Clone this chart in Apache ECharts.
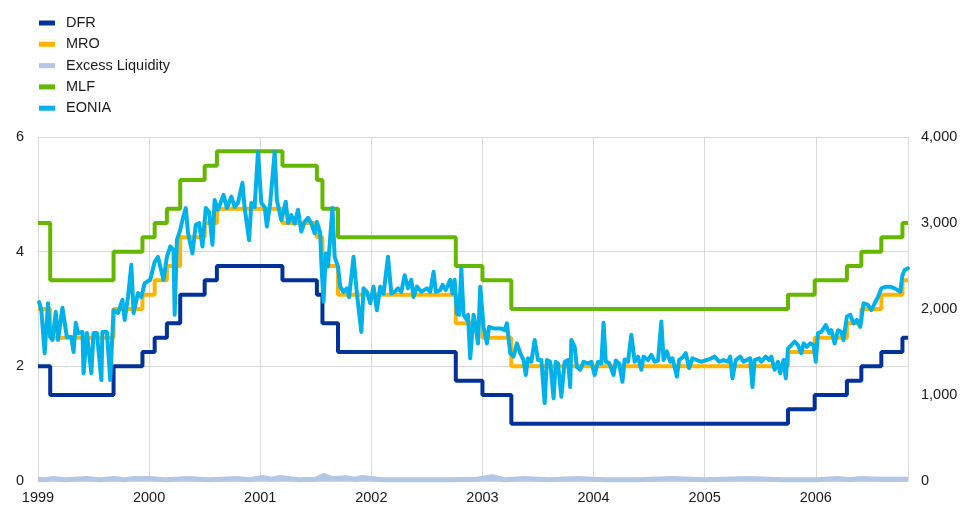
<!DOCTYPE html>
<html>
<head>
<meta charset="utf-8">
<script src="https://cdn.jsdelivr.net/npm/echarts@6/dist/echarts.min.js"></script>
<style>
  html, body { margin: 0; padding: 0; background: #fff; }
  #chart { width: 962px; height: 507px; }
</style>
</head>
<body>
<div id="chart"></div>
<script>
// dates are decimal years
const rateDates = [1999.00, 1999.11, 1999.68, 1999.94, 2000.05, 2000.16, 2000.28, 2000.50, 2000.61,
  2001.20, 2001.51, 2001.56, 2001.70, 2002.76, 2003.00, 2003.26, 2005.75, 2005.99, 2006.28,
  2006.41, 2006.59, 2006.78];
const endDate = 2006.83;

const dfrValues = [2.0, 1.5, 2.0, 2.25, 2.5, 2.75, 3.25, 3.5, 3.75, 3.5, 3.25, 2.75, 2.25, 1.75,
  1.5, 1.0, 1.25, 1.5, 1.75, 2.0, 2.25, 2.5];
const mroValues = [3.0, 2.5, 3.0, 3.25, 3.5, 3.75, 4.25, 4.5, 4.75, 4.5, 4.25, 3.75, 3.25, 2.75,
  2.5, 2.0, 2.25, 2.5, 2.75, 3.0, 3.25, 3.5];
const mlfValues = [4.5, 3.5, 4.0, 4.25, 4.5, 4.75, 5.25, 5.5, 5.75, 5.5, 5.25, 4.75, 4.25, 3.75,
  3.5, 3.0, 3.25, 3.5, 3.75, 4.0, 4.25, 4.5];

const eoniaDates = [
  1999.01, 1999.03, 1999.06, 1999.09, 1999.11, 1999.13, 1999.16, 1999.18, 1999.22, 1999.26,
  1999.30, 1999.32, 1999.34, 1999.36, 1999.40, 1999.41, 1999.44, 1999.48, 1999.50, 1999.53,
  1999.57, 1999.58, 1999.62, 1999.65, 1999.67, 1999.68, 1999.72, 1999.76, 1999.78, 1999.81,
  1999.84, 1999.86, 1999.90, 1999.93, 1999.96, 2000.01, 2000.05, 2000.08, 2000.10, 2000.13,
  2000.16, 2000.19, 2000.22, 2000.23, 2000.25, 2000.28, 2000.30, 2000.33, 2000.35, 2000.39,
  2000.42, 2000.45, 2000.48, 2000.51, 2000.54, 2000.57, 2000.59, 2000.62, 2000.67, 2000.70,
  2000.74, 2000.77, 2000.80, 2000.84, 2000.86, 2000.90, 2000.92, 2000.95, 2000.98, 2001.01,
  2001.04, 2001.06, 2001.09, 2001.13, 2001.15, 2001.19, 2001.23, 2001.25, 2001.28, 2001.31,
  2001.34, 2001.37, 2001.40, 2001.43, 2001.46, 2001.49, 2001.51, 2001.54, 2001.55, 2001.57,
  2001.59, 2001.61, 2001.65, 2001.67, 2001.70, 2001.72, 2001.75, 2001.78, 2001.80, 2001.84,
  2001.87, 2001.91, 2001.93, 2001.96, 2001.99, 2002.02, 2002.05, 2002.08, 2002.11, 2002.15,
  2002.18, 2002.21, 2002.24, 2002.27, 2002.30, 2002.33, 2002.36, 2002.38, 2002.41, 2002.45,
  2002.50, 2002.53, 2002.56, 2002.58, 2002.62, 2002.64, 2002.67, 2002.71, 2002.73, 2002.75,
  2002.77, 2002.79, 2002.81, 2002.83, 2002.86, 2002.87, 2002.89, 2002.92, 2002.94, 2002.96,
  2002.98, 2003.01, 2003.04, 2003.06, 2003.10, 2003.13, 2003.17, 2003.20, 2003.22, 2003.25,
  2003.28, 2003.31, 2003.34, 2003.37, 2003.39, 2003.41, 2003.44, 2003.47, 2003.50, 2003.53,
  2003.56, 2003.58, 2003.61, 2003.64, 2003.66, 2003.68, 2003.71, 2003.74, 2003.77, 2003.79,
  2003.80, 2003.83, 2003.85, 2003.88, 2003.91, 2003.95, 2003.98, 2004.01, 2004.04, 2004.07,
  2004.09, 2004.11, 2004.14, 2004.18, 2004.20, 2004.23, 2004.26, 2004.28, 2004.31, 2004.34,
  2004.37, 2004.40, 2004.43, 2004.45, 2004.49, 2004.52, 2004.55, 2004.58, 2004.61, 2004.63,
  2004.66, 2004.69, 2004.71, 2004.75, 2004.77, 2004.81, 2004.83, 2004.86, 2004.89, 2004.93,
  2004.97, 2005.02, 2005.06, 2005.09, 2005.13, 2005.17, 2005.21, 2005.23, 2005.25, 2005.28,
  2005.32, 2005.35, 2005.38, 2005.41, 2005.43, 2005.45, 2005.49, 2005.51, 2005.55, 2005.58,
  2005.60, 2005.63, 2005.66, 2005.68, 2005.71, 2005.73, 2005.75, 2005.78, 2005.81, 2005.84,
  2005.87, 2005.89, 2005.92, 2005.95, 2005.98, 2006.00, 2006.02, 2006.05, 2006.09, 2006.12,
  2006.14, 2006.17, 2006.20, 2006.23, 2006.25, 2006.28, 2006.31, 2006.34, 2006.37, 2006.40,
  2006.43, 2006.47, 2006.50, 2006.53, 2006.56, 2006.59, 2006.63, 2006.67, 2006.71, 2006.76,
  2006.78, 2006.80, 2006.83];
const eoniaValues = [
  3.12, 2.98, 2.23, 3.10, 2.51, 2.46, 2.95, 2.46, 3.02, 2.51,
  2.51, 2.25, 2.76, 2.58, 2.60, 1.88, 2.58, 1.88, 2.58, 2.58,
  1.76, 2.60, 2.60, 1.76, 2.58, 2.98, 2.93, 3.16, 2.81, 3.21,
  3.77, 2.93, 3.28, 3.21, 3.45, 3.51, 3.82, 3.91, 3.74, 3.51,
  3.91, 4.09, 4.03, 2.90, 4.20, 4.38, 4.55, 4.76, 4.33, 3.97,
  4.47, 4.50, 4.09, 4.76, 4.69, 4.12, 4.90, 4.73, 4.99, 4.76,
  4.96, 4.78, 4.85, 5.20, 4.76, 4.20, 4.85, 4.78, 5.74, 4.85,
  4.78, 4.44, 4.85, 5.74, 4.90, 4.55, 4.87, 4.50, 4.64, 4.49,
  4.73, 4.35, 4.52, 4.59, 4.49, 4.32, 4.52, 4.33, 3.80, 3.13,
  3.97, 3.74, 4.76, 3.91, 3.74, 3.39, 3.30, 3.36, 3.21, 3.91,
  3.27, 2.60, 3.36, 3.30, 3.10, 3.39, 2.98, 3.39, 3.27, 3.91,
  3.27, 3.30, 3.36, 3.30, 3.59, 3.36, 3.51, 3.21, 3.39, 3.30,
  3.36, 3.30, 3.65, 3.30, 3.33, 3.42, 3.33, 3.51, 3.27, 3.51,
  2.92, 2.90, 3.71, 2.90, 2.81, 2.90, 2.14, 2.90, 2.69, 2.40,
  3.39, 2.69, 2.40, 2.69, 2.66, 2.66, 2.66, 2.63, 2.75, 2.23,
  2.17, 2.40, 2.23, 2.11, 1.85, 2.14, 2.08, 2.46, 2.11, 2.11,
  1.36, 2.11, 2.08, 1.44, 2.08, 2.05, 1.47, 2.08, 2.11, 1.64,
  2.46, 2.34, 1.99, 1.94, 2.08, 2.05, 2.08, 1.85, 2.08, 2.05,
  2.76, 2.08, 2.06, 1.85, 2.10, 2.05, 1.73, 2.12, 2.08, 2.55,
  2.08, 2.17, 1.94, 2.17, 2.11, 2.20, 2.08, 2.10, 2.78, 2.11,
  2.26, 2.08, 2.14, 1.82, 2.11, 2.17, 2.23, 1.97, 2.14, 2.11,
  2.08, 2.11, 2.14, 2.17, 2.08, 2.11, 2.08, 2.17, 1.79, 2.11,
  2.17, 2.08, 2.11, 2.14, 1.64, 2.11, 2.14, 2.08, 2.17, 2.11,
  2.17, 1.94, 2.08, 1.88, 2.11, 1.79, 2.31, 2.37, 2.43, 2.37,
  2.23, 2.40, 2.34, 2.40, 2.37, 2.08, 2.58, 2.60, 2.72, 2.58,
  2.63, 2.40, 2.63, 2.60, 2.46, 2.87, 2.90, 2.75, 2.81, 2.69,
  3.10, 3.07, 2.98, 3.10, 3.21, 3.36, 3.39, 3.39, 3.36, 3.30,
  3.59, 3.68, 3.71];

// excess liquidity, right axis
const liqDates = [1999.00, 1999.07, 1999.13, 1999.25, 1999.44, 1999.55, 1999.69, 1999.78, 1999.86,
  2000.01, 2000.15, 2000.34, 2000.55, 2000.79, 2000.90, 2001.02, 2001.10, 2001.18, 2001.35,
  2001.50, 2001.57, 2001.65, 2001.77, 2001.85, 2001.92, 2002.10, 2002.40, 2002.70, 2002.95,
  2003.09, 2003.20, 2003.37, 2003.60, 2003.85, 2004.10, 2004.40, 2004.71, 2005.00, 2005.39,
  2005.70, 2006.00, 2006.20, 2006.30, 2006.40, 2006.60, 2006.83];
const liqValues = [20, 15, 30, 15, 28, 15, 30, 15, 30,
  30, 15, 28, 15, 30, 15, 40, 20, 40, 15,
  20, 65, 25, 38, 20, 40, 15, 15, 15, 20,
  50, 15, 28, 15, 28, 15, 15, 28, 15, 28,
  15, 15, 30, 15, 28, 20, 20];

const yearTicks = [1999, 2000, 2001, 2002, 2003, 2004, 2005, 2006];
const leftTicks = [0, 2, 4, 6];
const rightTicks = [0, 1000, 2000, 3000, 4000];

// step series: change dates + last value held to the end
function stepData(values) {
  const d = rateDates.map((x, i) => [x, values[i]]);
  d.push([endDate, values[values.length - 1]]);
  return d;
}

const font = 'Liberation Sans, Arial, sans-serif';
const chart = echarts.init(document.getElementById('chart'));

const option = {
  animation: false,
  backgroundColor: '#fff',
  textStyle: { fontFamily: font },
  legend: {
    orient: 'vertical',
    left: 39,
    top: 15,
    padding: 0,
    itemGap: 5.3,
    itemWidth: 16,
    itemHeight: 5,
    icon: 'rect',
    textStyle: { fontFamily: font, fontSize: 14.5, color: '#1a1a1a', lineHeight: 16, padding: [0, 0, 0, 6] },
    data: ['DFR', 'MRO', 'Excess Liquidity', 'MLF', 'EONIA']
  },
  grid: { left: 38, right: 54, top: 137, bottom: 26 },
  xAxis: {
    type: 'value',
    min: yearTicks[0],
    max: endDate,
    interval: 1,
    axisLine: { show: false },
    axisTick: { show: false },
    axisLabel: {
      fontFamily: font, fontSize: 14.5, color: '#1a1a1a', margin: 9,
      showMaxLabel: false,
      formatter: v => yearTicks.indexOf(Math.round(v * 100) / 100) >= 0 ? String(Math.round(v)) : ''
    },
    splitLine: { show: true, lineStyle: { color: '#d9d9d9', width: 1 } }
  },
  yAxis: [
    {
      type: 'value',
      min: leftTicks[0],
      max: leftTicks[leftTicks.length - 1],
      interval: 2,
      axisLine: { show: false },
      axisTick: { show: false },
      axisLabel: { fontFamily: font, fontSize: 14.5, color: '#1a1a1a', margin: 14 },
      splitLine: { show: true, lineStyle: { color: '#d9d9d9', width: 1 } }
    },
    {
      type: 'value',
      position: 'right',
      min: rightTicks[0],
      max: rightTicks[rightTicks.length - 1],
      interval: 1000,
      axisLine: { show: false },
      axisTick: { show: false },
      splitLine: { show: false },
      axisLabel: {
        fontFamily: font, fontSize: 14.5, color: '#1a1a1a', margin: 13,
        formatter: v => v.toLocaleString('en-US')
      }
    }
  ],
  series: [
    {
      name: 'DFR', type: 'line', step: 'end', showSymbol: false,
      data: stepData(dfrValues),
      itemStyle: { color: '#003299' },
      lineStyle: { color: '#003299', width: 4 }
    },
    {
      name: 'MRO', type: 'line', step: 'end', showSymbol: false,
      data: stepData(mroValues),
      itemStyle: { color: '#ffb400' },
      lineStyle: { color: '#ffb400', width: 4 }
    },
    {
      name: 'Excess Liquidity', type: 'line', yAxisIndex: 1, showSymbol: false,
      data: liqDates.map((x, i) => [x, liqValues[i]]),
      itemStyle: { color: '#b4c7e7' },
      lineStyle: { color: '#b4c7e7', width: 5 },
      areaStyle: { color: '#b4c7e7', opacity: 1 }
    },
    {
      name: 'MLF', type: 'line', step: 'end', showSymbol: false,
      data: stepData(mlfValues),
      itemStyle: { color: '#65b800' },
      lineStyle: { color: '#65b800', width: 4 }
    },
    {
      name: 'EONIA', type: 'line', showSymbol: false,
      data: eoniaDates.map((x, i) => [x, eoniaValues[i]]),
      itemStyle: { color: '#00b1ea' },
      lineStyle: { color: '#00b1ea', width: 4, cap: 'round', join: 'round' }
    }
  ]
};

chart.setOption(option);
</script>
</body>
</html>
